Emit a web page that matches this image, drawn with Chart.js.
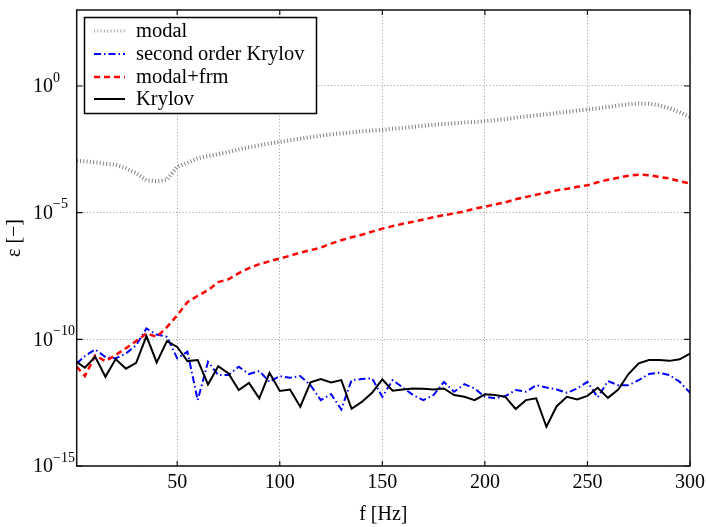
<!DOCTYPE html>
<html>
<head>
<meta charset="utf-8">
<script src="https://cdn.jsdelivr.net/npm/chart.js@4.4.1/dist/chart.umd.min.js"></script>
<style>
  html, body { margin: 0; padding: 0; background: #fff; }
  #wrap { width: 706px; height: 527px; }
</style>
</head>
<body>
<div id="wrap"><canvas id="chartErr"></canvas></div>
<script>
// frequencies [Hz]
const freqs = [1, 5, 10, 15, 20, 25, 30, 35, 40, 45, 50, 55, 60, 65, 70, 75, 80, 85, 90, 95, 100,
    105, 110, 115, 120, 125, 130, 135, 140, 145, 150, 155, 160, 165, 170, 175, 180, 185, 190, 195, 200,
    205, 210, 215, 220, 225, 230, 235, 240, 245, 250, 255, 260, 265, 270, 275, 280, 285, 290, 295, 300];

// log10 of the error
const modalLog = [-2.95, -2.97, -3.01, -3.07, -3.11, -3.25, -3.44, -3.72, -3.76, -3.70, -3.19,
    -3.03, -2.85, -2.77, -2.69, -2.60, -2.50, -2.42, -2.34, -2.26, -2.21,
    -2.14, -2.08, -2.02, -1.96, -1.91, -1.87, -1.83, -1.79, -1.76, -1.73,
    -1.69, -1.66, -1.61, -1.57, -1.53, -1.50, -1.47, -1.44, -1.42, -1.39,
    -1.35, -1.31, -1.25, -1.20, -1.16, -1.12, -1.07, -1.02, -0.97, -0.93,
    -0.88, -0.83, -0.77, -0.72, -0.69, -0.70, -0.76, -0.88, -1.04, -1.22];

const secondKrylovLog = [-10.95, -10.66, -10.40, -10.70, -10.75, -10.56, -10.23, -9.57, -9.81, -9.90, -10.75,
    -10.49, -12.40, -10.89, -11.41, -11.41, -11.08, -11.37, -11.25, -11.68, -11.45,
    -11.52, -11.45, -11.81, -12.40, -12.16, -12.77, -11.61, -11.57, -11.54, -12.27,
    -11.61, -11.90, -12.20, -12.40, -12.20, -11.68, -12.07, -11.77, -11.94, -12.27,
    -12.33, -12.24, -12.00, -12.07, -11.81, -11.90, -11.98, -12.11, -11.94, -11.68,
    -12.29, -11.65, -11.81, -11.81, -11.61, -11.37, -11.32, -11.41, -11.68, -12.11];

const modalFrmLog = [-11.08, -11.45, -10.64, -10.86, -10.62, -10.35, -10.07, -9.77, -9.90, -9.52, -9.05,
    -8.53, -8.28, -8.06, -7.74, -7.63, -7.39, -7.19, -7.03, -6.92, -6.81,
    -6.70, -6.58, -6.48, -6.38, -6.22, -6.09, -5.97, -5.87, -5.75, -5.63,
    -5.53, -5.44, -5.36, -5.27, -5.18, -5.10, -5.03, -4.95, -4.84, -4.77,
    -4.67, -4.59, -4.47, -4.38, -4.29, -4.21, -4.12, -4.06, -3.98, -3.92,
    -3.80, -3.70, -3.62, -3.54, -3.50, -3.52, -3.59, -3.65, -3.76, -3.85];

const krylovLog = [-10.89, -11.12, -10.69, -11.48, -10.78, -11.16, -10.93, -9.87, -10.91, -10.07, -10.30,
    -10.86, -10.82, -11.78, -11.06, -11.35, -12.00, -11.72, -12.33, -11.32, -12.04,
    -11.98, -12.66, -11.70, -11.57, -11.70, -11.61, -12.74, -12.47, -12.11, -11.58,
    -12.03, -11.98, -11.94, -11.95, -11.98, -11.94, -12.20, -12.27, -12.40, -12.17,
    -12.20, -12.27, -12.75, -12.40, -12.33, -13.45, -12.64, -12.27, -12.37, -12.23,
    -11.91, -12.31, -11.98, -11.37, -10.95, -10.82, -10.82, -10.85, -10.79, -10.56];

const xTicks = [50, 100, 150, 200, 250, 300];
const yTicks = [1e-15, 1e-10, 1e-5, 1e0];
const yTickExp = ['\u221215', '\u221210', '\u22125', '0'];

const serif = '"Liberation Serif", "Times New Roman", serif';

function toPoints(logs) {
    return logs.map((v, i) => ({ x: freqs[i], y: Math.pow(10, v) }));
}

const errData = {
    datasets: [{
        label: 'modal',
        data: toPoints(modalLog),
        borderColor: '#808080',
        borderWidth: 4,
        borderDash: [1, 2.3],
        borderCapStyle: 'butt',
        pointRadius: 0,
        fill: false,
        order: 4
    },
    {
        label: 'second order Krylov',
        data: toPoints(secondKrylovLog),
        borderColor: '#0000ff',
        borderWidth: 2,
        borderDash: [7, 3, 1.5, 3],
        pointRadius: 0,
        fill: false,
        order: 3
    },
    {
        label: 'modal+frm',
        data: toPoints(modalFrmLog),
        borderColor: '#ff0000',
        borderWidth: 2.5,
        borderDash: [6, 4],
        pointRadius: 0,
        fill: false,
        order: 2
    },
    {
        label: 'Krylov',
        data: toPoints(krylovLog),
        borderColor: '#000000',
        borderWidth: 2,
        pointRadius: 0,
        fill: false,
        order: 1
    }]
};

// frame, inward ticks, y tick labels with exponents, legend inside the plot
const framePlugin = {
    id: 'framePlugin',
    afterDraw(chart) {
        const ctx = chart.ctx;
        const a = chart.chartArea;
        const xs = chart.scales.x;
        const ys = chart.scales.y;
        ctx.save();

        ctx.strokeStyle = '#111';
        ctx.lineWidth = 1.5;
        ctx.strokeRect(a.left, a.top, a.right - a.left, a.bottom - a.top);

        ctx.lineWidth = 1.2;
        ctx.beginPath();
        xTicks.forEach(t => {
            const px = xs.getPixelForValue(t);
            ctx.moveTo(px, a.bottom); ctx.lineTo(px, a.bottom - 5);
            ctx.moveTo(px, a.top); ctx.lineTo(px, a.top + 5);
        });
        yTicks.forEach(t => {
            const py = ys.getPixelForValue(t);
            ctx.moveTo(a.left, py); ctx.lineTo(a.left + 6, py);
            ctx.moveTo(a.right, py); ctx.lineTo(a.right - 6, py);
        });
        ctx.stroke();

        ctx.fillStyle = '#000';
        ctx.textAlign = 'left';
        ctx.textBaseline = 'middle';
        yTicks.forEach((t, i) => {
            const py = ys.getPixelForValue(t);
            ctx.font = '20px ' + serif;
            ctx.fillText('10', 33, py + 1);
            const w = ctx.measureText('10').width;
            ctx.font = '14px ' + serif;
            ctx.fillText(yTickExp[i], 33 + w, py - 8);
        });

        // legend
        const lx = 84.5, ly = 17.5, lw = 232, lh = 96;
        ctx.fillStyle = '#fff';
        ctx.fillRect(lx, ly, lw, lh);
        ctx.strokeStyle = '#000';
        ctx.lineWidth = 1.5;
        ctx.strokeRect(lx, ly, lw, lh);
        const rows = [31, 54, 77, 99];
        chart.data.datasets.forEach((ds, i) => {
            const y = rows[i];
            ctx.save();
            ctx.strokeStyle = ds.borderColor;
            ctx.lineWidth = i === 0 ? 3 : ds.borderWidth;
            ctx.setLineDash(ds.borderDash || []);
            if (i === 0) ctx.globalAlpha = 0.7;
            ctx.beginPath();
            ctx.moveTo(94, y); ctx.lineTo(125, y);
            ctx.stroke();
            ctx.restore();
            ctx.fillStyle = '#000';
            ctx.font = '20.5px ' + serif;
            ctx.textBaseline = 'middle';
            ctx.fillText(ds.label, 136, y + 1);
        });
        ctx.restore();
    }
};

const ctxErr = document.getElementById('chartErr').getContext('2d');
const chartErr = new Chart(ctxErr, {
    type: 'line',
    data: errData,
    plugins: [framePlugin],
    options: {
        responsive: true,
        maintainAspectRatio: false,
        animation: false,
        layout: { padding: { top: 10, right: 16, left: 0, bottom: 0 } },
        plugins: {
            legend: { display: false },
            tooltip: { enabled: false }
        },
        scales: {
            x: {
                type: 'linear',
                min: 1,
                max: 300,
                afterBuildTicks: (scale) => { scale.ticks = xTicks.map(v => ({ value: v })); },
                afterFit: (scale) => {
                    scale.height = 61;
                    scale.paddingLeft = 0;
                    scale.paddingRight = 0;
                },
                grid: { color: '#9a9a9a', lineWidth: 1, drawTicks: false },
                border: { display: false, dash: [1, 2.3] },
                ticks: {
                    color: '#000',
                    padding: 5,
                    maxRotation: 0,
                    font: { family: serif, size: 20 }
                },
                title: {
                    display: true,
                    text: 'f [Hz]',
                    color: '#000',
                    padding: { top: 0, bottom: 0 },
                    font: { family: serif, size: 20 }
                }
            },
            y: {
                type: 'logarithmic',
                min: 1e-15,
                max: 1e3,
                afterBuildTicks: (scale) => { scale.ticks = yTicks.map(v => ({ value: v })); },
                afterFit: (scale) => { scale.width = 76.7; },
                grid: { color: '#9a9a9a', lineWidth: 1, drawTicks: false },
                border: { display: false, dash: [1, 2.3] },
                ticks: { display: false },
                title: {
                    display: true,
                    text: '\u03b5 [\u2212]',
                    color: '#000',
                    padding: { top: 3, bottom: 0 },
                    font: { family: serif, size: 20 }
                }
            }
        }
    }
});
</script>
</body>
</html>
